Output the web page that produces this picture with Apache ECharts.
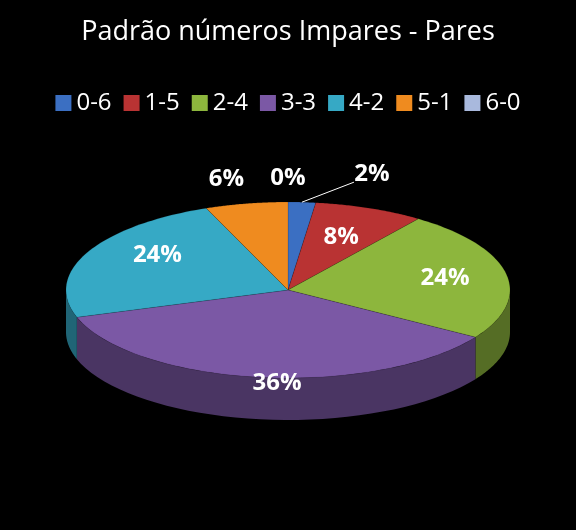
<!DOCTYPE html>
<html>
<head>
<meta charset="utf-8">
<script src="https://cdn.jsdelivr.net/npm/echarts@6/dist/echarts.min.js"></script>
<style>html,body{margin:0;background:#000}#main{width:576px;height:530px}</style>
</head>
<body>
<div id="main"></div>
<script>
// dados do gráfico
var categories = ["0-6", "1-5", "2-4", "3-3", "4-2", "5-1", "6-0"];
var values = [2, 8, 24, 36, 24, 6, 0];
var labels = ["2%", "8%", "24%", "36%", "24%", "6%", "0%"];
var colors = ["#3b6fc2", "#b93333", "#8db63d", "#7b58a5", "#36a9c5", "#ef8b1f", "#a9b9dd"];

var cx = 288, cy = 290, rx = 222, ry = 88, depth = 42;
var total = values.reduce(function(a, b){ return a + b; }, 0);

// posição do rótulo: [fator do raio, deslocamento x, deslocamento y]
var labelPos = [[1, 70, -28], [0.65, 0, 0], [0.72, 0, 0], [0.75, 10, 28], [0.65, 0, -10], [1, -20, -24], [1, 0, -24]];

function pt(a, f){
	return [cx + rx * f * Math.sin(a), cy - ry * f * Math.cos(a)];
}
function shade(hex, k){
	var n = parseInt(hex.slice(1), 16);
	var r = Math.round((n >> 16) * k), g = Math.round(((n >> 8) & 255) * k), b = Math.round((n & 255) * k);
	return "rgb(" + r + "," + g + "," + b + ")";
}

var starts = [], acc = 0;
values.forEach(function(v){ starts.push(acc); acc += v; });

var echart = echarts.init(document.getElementById('main'));
var option = {
	backgroundColor: "#000",
	title: {
		text: "Padrão números Impares - Pares",
		left: "center", top: 14,
		textStyle: {color: "#fff", fontSize: 27, fontWeight: "normal", fontFamily: "Open Sans"}
	},
	legend: {
		top: 86, left: "center", icon: "rect", itemWidth: 16, itemHeight: 16, itemGap: 12,
		textStyle: {color: "#fff", fontSize: 24, fontFamily: "Open Sans"},
		data: categories
	},
	series: [
		{
			type: "pie", radius: [0, 0], center: [-100, -100], silent: true,
			label: {show: false}, labelLine: {show: false},
			data: categories.map(function(c, i){ return {name: c, value: values[i] || 0.0001, itemStyle: {color: colors[i]}}; })
		},
		{
			type: "custom", coordinateSystem: "none",
			data: values.map(function(v, i){ return [i, starts[i], v]; }),
			renderItem: function(params, api){
				var i = api.value(0);
				var a0 = api.value(1) / total * 2 * Math.PI;
				var a1 = (api.value(1) + api.value(2)) / total * 2 * Math.PI;
				var children = [];
				// parede lateral (metade da frente)
				var s0 = Math.max(a0, Math.PI / 2), s1 = Math.min(a1, Math.PI * 1.5);
				if(s1 > s0){
					var side = [], n = 40, k;
					for(k = 0; k <= n; k++) side.push(pt(s0 + (s1 - s0) * k / n, 1));
					for(k = n; k >= 0; k--){ var p = pt(s0 + (s1 - s0) * k / n, 1); side.push([p[0], p[1] + depth]); }
					children.push({type: "polygon", shape: {points: side}, style: {fill: shade(colors[i], 0.6)}});
				}
				// topo
				if(a1 > a0){
					var top = [[cx, cy]];
					for(var j = 0; j <= 60; j++) top.push(pt(a0 + (a1 - a0) * j / 60, 1));
					children.push({type: "polygon", shape: {points: top}, style: {fill: colors[i], stroke: "rgba(0,0,0,0.25)", lineWidth: 0.5}});
				}
				var am = (a0 + a1) / 2, lp = labelPos[i];
				var q = pt(am, lp[0]);
				var lx = q[0] + lp[1], ly = q[1] + lp[2];
				if(i === 0){
					children.push({type: "line", shape: {x1: q[0], y1: q[1], x2: lx - 18, y2: ly + 8}, style: {stroke: "#fff", lineWidth: 1}});
				}
				children.push({type: "text", x: lx, y: ly, style: {text: labels[i], fill: "#fff", font: "bold 24px 'Open Sans'", align: "center", verticalAlign: "middle"}});
				return {type: "group", children: children};
			}
		}
	]
};
echart.setOption(option);
</script>
</body>
</html>
